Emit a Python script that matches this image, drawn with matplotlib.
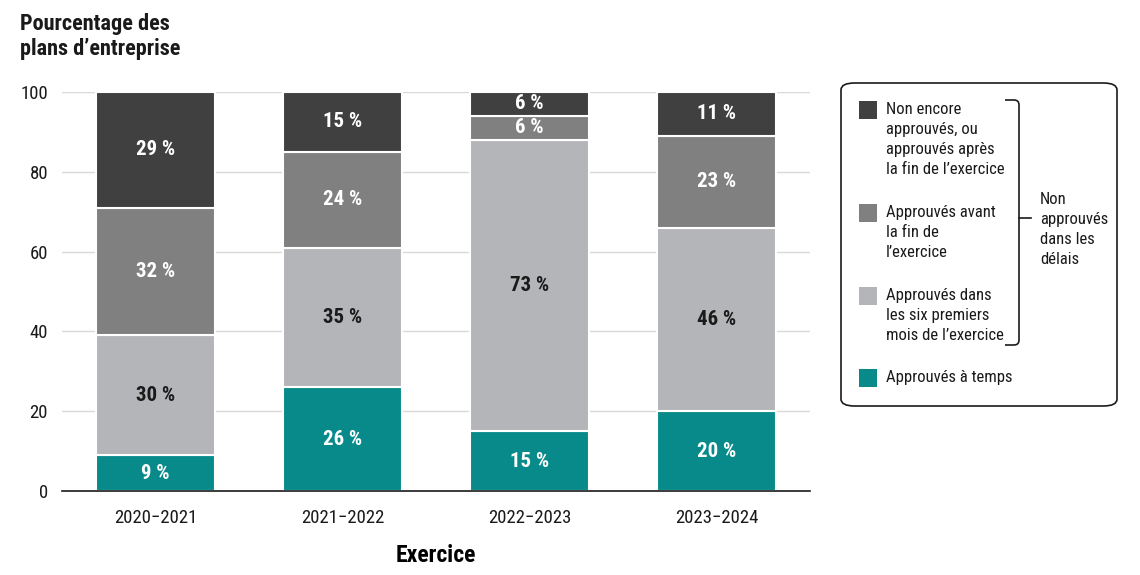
import numpy as np
import matplotlib.pyplot as plt
from matplotlib.patches import FancyBboxPatch, Rectangle
from matplotlib.path import Path
from matplotlib.patches import PathPatch

plt.rcParams['font.family'] = ['Roboto Condensed', 'Roboto', 'DejaVu Sans']

years = ['2020\u22122021', '2021\u22122022', '2022\u22122023', '2023\u22122024']
on_time = [9, 26, 15, 20]
six_months = [30, 35, 73, 46]
before_end = [32, 24, 6, 23]
not_yet = [29, 15, 6, 11]

series = [on_time, six_months, before_end, not_yet]
colors = ['#088a8a', '#b4b5b8', '#808080', '#404040']
txt_colors = ['white', '#1a1a1a', 'white', 'white']
legend_labels = ['Non encore\napprouvés, ou\napprouvés après\nla fin de l\u2019exercice',
                 'Approuvés avant\nla fin de\nl\u2019exercice',
                 'Approuvés dans\nles six premiers\nmois de l\u2019exercice',
                 'Approuvés à temps']

W, H = 1140, 575
fig = plt.figure(figsize=(W / 100, H / 100), dpi=100)
ax = fig.add_axes([62 / W, 1 - 491 / H, 748 / W, 399 / H])

x = np.arange(len(years))
bottom = np.zeros(len(years))
for vals, c, tc in zip(series, colors, txt_colors):
    vals = np.array(vals)
    ax.bar(x, vals, 0.636, bottom=bottom, color=c, edgecolor='white',
           linewidth=1.5, zorder=3)
    for xi, b, v in zip(x, bottom, vals):
        ax.text(xi, b + v / 2, f'{v} %', ha='center', va='center',
                color=tc, fontsize=15, fontweight='bold', zorder=4)
    bottom += vals

ax.set_xlim(-0.5, 3.5)
ax.set_ylim(0, 100)
ax.set_yticks([0, 20, 40, 60, 80, 100])
ax.set_xticks(x)
ax.set_xticklabels(years)
ax.tick_params(axis='both', length=0, labelsize=13.5, colors='#1a1a1a')
ax.tick_params(axis='y', pad=10)
ax.tick_params(axis='x', pad=13)
ax.yaxis.grid(True, color='#d9d9d9', linewidth=1, zorder=0)
for s in ['top', 'right', 'left']:
    ax.spines[s].set_visible(False)
ax.spines['bottom'].set_color('#1a1a1a')
ax.spines['bottom'].set_linewidth(1.2)
ax.spines['bottom'].set_zorder(5)
ax.set_xlabel('Exercice', fontsize=17, fontweight='bold', labelpad=12)

fig.text(20 / W, 1 - 13 / H, 'Pourcentage des\nplans d\u2019entreprise',
         ha='left', va='top', fontsize=16, fontweight='bold',
         linespacing=1.15, color='#1a1a1a')

# legend box
def fx(px):
    return px / W


def fy(py):
    return 1 - py / H


box = FancyBboxPatch((fx(841), fy(406)), fx(1117) - fx(841), fy(83) - fy(406),
                     boxstyle='round,pad=0,rounding_size=0.012',
                     transform=fig.transFigure, facecolor='white',
                     edgecolor='#1a1a1a', linewidth=1.2)
fig.patches.append(box)

entries = [(101, colors[3]), (204, colors[2]), (287, colors[1]), (369, colors[0])]
for (py, c), lab in zip(entries, legend_labels):
    fig.patches.append(Rectangle((fx(859), fy(py + 18)), 18 / W, 18 / H,
                                 transform=fig.transFigure, facecolor=c,
                                 edgecolor='none'))
    fig.text(fx(886), fy(py + 1), lab, ha='left', va='top', fontsize=12,
             linespacing=1.42, color='#1a1a1a')

# brace
bx, r = 1019, 5
top, bot, mid = 100, 345, 218
verts = [(1005, top), (bx - r, top), (bx, top), (bx, top + r),
         (bx, bot - r), (bx, bot), (bx - r, bot), (1005, bot)]
codes = [Path.MOVETO, Path.LINETO, Path.CURVE3, Path.CURVE3,
         Path.LINETO, Path.CURVE3, Path.CURVE3, Path.LINETO]
brace = Path([(fx(a), fy(b)) for a, b in verts], codes)
fig.patches.append(PathPatch(brace, transform=fig.transFigure, fill=False,
                             edgecolor='#1a1a1a', linewidth=1.2))
fig.add_artist(plt.Line2D([fx(bx), fx(1031)], [fy(mid), fy(mid)],
                          transform=fig.transFigure, color='#1a1a1a',
                          linewidth=1.2))
fig.text(fx(1040), fy(192), 'Non\napprouvés\ndans les\ndélais', ha='left',
         va='top', fontsize=12, linespacing=1.42, color='#1a1a1a')

fig.savefig('out.png', dpi=100)
